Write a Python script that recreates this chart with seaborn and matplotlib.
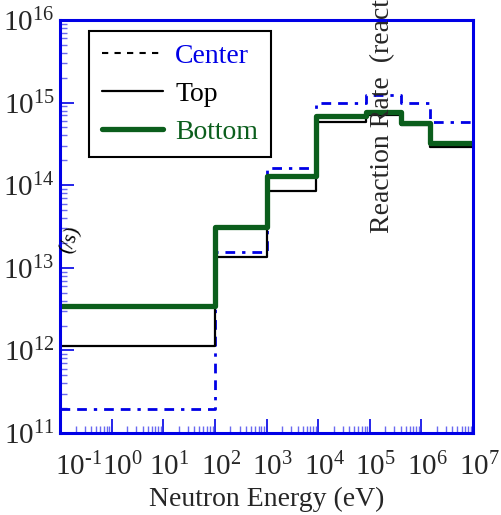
import numpy as np
import pandas as pd
import matplotlib
matplotlib.use("Agg")
import matplotlib.pyplot as plt
from matplotlib.lines import Line2D
from matplotlib.transforms import ScaledTranslation
from matplotlib.ticker import LogLocator, NullFormatter, FixedLocator, FixedFormatter
import seaborn as sns

# ---- data ----
energy_edges = [0.1, 100, 1e3, 9e3, 8.5e4, 4e5, 1.5e6, 1e7]
center = [1.95e11, 1.55e13, 1.6e14, 1.0e15, 1.23e15, 1.0e15, 5.9e14]
top = [1.12e12, 1.35e13, 8.5e13, 5.9e14, 7.0e14, 5.3e14, 2.9e14]
bottom = [3.4e12, 3.1e13, 1.3e14, 6.9e14, 7.8e14, 5.6e14, 3.2e14]
series_names = ["Center", "Top", "Bottom"]
x_exponents = [-1, 0, 1, 2, 3, 4, 5, 6, 7]
y_exponents = [11, 12, 13, 14, 15, 16]
x_label = "Neutron Energy (eV)"
y_label = "Reaction Rate  (reactions/s)"

sns.set_style("white")
plt.rcParams["font.family"] = ["Liberation Serif", "DejaVu Serif"]
plt.rcParams["mathtext.fontset"] = "custom"
plt.rcParams["mathtext.rm"] = "Liberation Serif"
plt.rcParams["mathtext.it"] = "Liberation Serif:italic"
plt.rcParams["mathtext.bf"] = "Liberation Serif:bold"

rows = []
for name, vals in zip(series_names, [center, top, bottom]):
    v = list(vals) + [vals[-1]]
    for e, r in zip(energy_edges, v):
        rows.append({"Energy": e, "Rate": r, "Position": name})
df = pd.DataFrame(rows)

fig = plt.figure(figsize=(5.01, 5.15), dpi=100)
ax = fig.add_axes([60/501, 82/515, 413/501, 413/515])

blue = "#0000e6"
green = "#0b5e1c"
styles = {
    "Center": dict(color=blue, lw=2.0, dashes=(3.5, 2.5, 3.5, 2.5, 1.2, 2.5)),
    "Top": dict(color="black", lw=1.6),
    "Bottom": dict(color=green, lw=3.8),
}
for name in ["Center", "Top", "Bottom"]:
    sub = df[df["Position"] == name]
    st = styles[name]
    sns.lineplot(data=sub, x="Energy", y="Rate", ax=ax, drawstyle="steps-post",
                 estimator=None, sort=True, legend=False,
                 color=st["color"], linewidth=st["lw"])
    if "dashes" in st:
        ax.lines[-1].set_dashes(st["dashes"])

ax.set_xscale("log")
ax.set_yscale("log")
ax.set_xlim(0.1, 1e7)
ax.set_ylim(1e11, 1e16)

for s in ax.spines.values():
    s.set_color(blue)
    s.set_linewidth(2.2)

def lab(e):
    return r"$10^{\text{%d}}$" % e

ax.xaxis.set_major_locator(FixedLocator([10.0**e for e in x_exponents]))
ax.xaxis.set_major_formatter(FixedFormatter([lab(e) for e in x_exponents]))
ax.yaxis.set_major_locator(FixedLocator([10.0**e for e in y_exponents]))
ax.yaxis.set_major_formatter(FixedFormatter([lab(e) for e in y_exponents]))
ax.xaxis.set_minor_locator(LogLocator(base=10, subs=np.arange(2, 10), numticks=50))
ax.yaxis.set_minor_locator(LogLocator(base=10, subs=np.arange(2, 10), numticks=50))
ax.xaxis.set_minor_formatter(NullFormatter())
ax.yaxis.set_minor_formatter(NullFormatter())
ax.tick_params(which="major", direction="in", length=10, width=1.2, color=blue,
               labelsize=21, bottom=True, left=True, top=False, right=False)
ax.tick_params(which="minor", direction="in", length=5, width=1.0, color="#6a6af0",
               bottom=True, left=True, top=False, right=False)
ax.tick_params(axis="x", which="major", pad=14)
ax.tick_params(axis="y", which="major", pad=4)

fig.canvas.draw()
xt = ax.get_xticklabels()
for i, t in enumerate(xt):
    if i == 0:
        t.set_horizontalalignment("left")
        dx = -5
    elif i == 1:
        dx = 11
    else:
        dx = 6
    t.set_transform(t.get_transform() + ScaledTranslation(dx/100, 0, fig.dpi_scale_trans))

ax.set_xlabel(x_label, fontsize=20, labelpad=4)
ax.set_ylabel("")

fig.text(383/501, 1 - 233/515, y_label, rotation=90, ha="center", va="bottom",
         fontsize=20)
fig.text(71/501, 1 - 240/515, "(/s)", rotation=72, ha="center", va="center",
         fontsize=15, color="black")

handles = [
    Line2D([], [], color="black", lw=1.5, dashes=(3, 3)),
    Line2D([], [], color="black", lw=1.6),
    Line2D([], [], color=green, lw=3.8),
]
leg = ax.legend(handles, series_names, loc="upper left",
                bbox_to_anchor=(29/413, 402/413), borderaxespad=0,
                fontsize=20, frameon=True, fancybox=False, framealpha=1,
                edgecolor="black", handlelength=2.2, handletextpad=0.45,
                labelspacing=0.45, borderpad=0.45)
leg.get_frame().set_linewidth(1.5)
for t, c in zip(leg.get_texts(), [blue, "black", green]):
    t.set_color(c)

fig.savefig("out.png", dpi=100)
